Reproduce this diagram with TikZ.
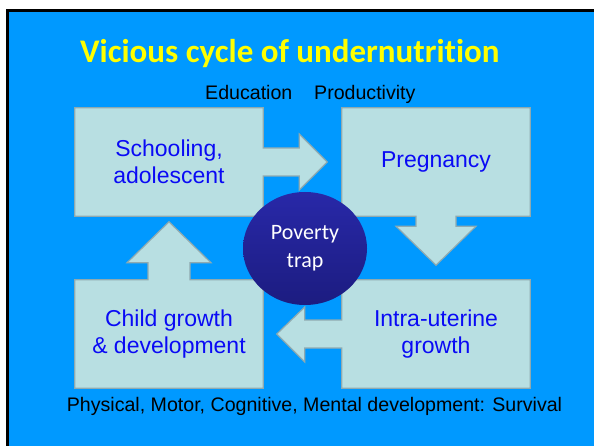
\documentclass[tikz,border=0pt]{standalone}
\usepackage{fontspec}
\setmainfont{Liberation Sans}
\newfontfamily\calibri[Ligatures=NoCommon]{Carlito}
\usetikzlibrary{calc,shapes.geometric}
\pgfdeclarelayer{back}
\pgfsetlayers{back,main}

\definecolor{slidebg}{HTML}{0099FF}
\definecolor{boxfill}{HTML}{B8DFE2}
\definecolor{boxline}{HTML}{8FAAB0}
\definecolor{labelblue}{HTML}{0A0AF5}
\definecolor{titleyellow}{HTML}{FFFF00}
\definecolor{traplight}{HTML}{2828A8}
\definecolor{trapdark}{HTML}{1C1C80}

\begin{document}
\begin{tikzpicture}[x=1pt,y=-1pt,
    stage/.style={minimum width=188pt,minimum height=108pt,inner sep=0pt,
      align=center,text=labelblue,font=\fontsize{23}{27.5}\selectfont},
    callout/.style={fill=boxfill,draw=boxline,line width=1.2pt,line join=miter},
    note/.style={inner sep=0pt,font=\fontsize{19.6}{23}\selectfont}]

  \useasboundingbox (0,0) rectangle (594,446);

  \node[anchor=base west,inner sep=0pt,text=titleyellow,
    font=\calibri\bfseries\fontsize{33}{40}\selectfont] (title) at (80,63)
    {Vicious cycle of undernutrition};

  % the four stages
  \node[stage] (school) at (169,162) {Schooling,\\adolescent};
  \node[stage] (preg) at (436,162) {Pregnancy};
  \node[stage] (uterine) at (436,334) {Intra-uterine\\growth};
  \node[stage] (child) at (169,334) {Child growth\\\& development};

  \begin{pgfonlayer}{back}
    % slide frame
    \fill[white] (0,0) rectangle (594,446);
    \fill[black] (6,9.5) rectangle (594,446);
    \fill[slidebg] (8.5,12) rectangle (594,446);

    % box + arrow to the right
    \draw[callout] (school.north west) -- (school.north east)
      -- ($(school.east)+(0,-14)$) -- ++(36,0) -- ++(0,-14)
      -- ($(school.east)+(64,0)$)
      -- ($(school.east)+(36,28)$) -- ++(0,-14) -- ++(-36,0)
      -- (school.south east) -- (school.south west) -- cycle;
    % box + arrow down
    \draw[callout] (preg.north west) -- (preg.north east) -- (preg.south east)
      -- ($(preg.south)+(20,0)$) -- ++(0,10) -- ++(20,0)
      -- ($(preg.south)+(0,49)$)
      -- ($(preg.south)+(-40,10)$) -- ++(20,0) -- ++(0,-10)
      -- (preg.south west) -- cycle;
    % box + arrow to the left
    \draw[callout] (uterine.north west) -- (uterine.north east)
      -- (uterine.south east) -- (uterine.south west)
      -- ($(uterine.west)+(0,14)$) -- ++(-37,0) -- ++(0,14)
      -- ($(uterine.west)+(-65,0)$)
      -- ($(uterine.west)+(-37,-27)$) -- ++(0,13) -- ++(37,0) -- cycle;
    % box + arrow up
    \draw[callout] (child.south west) -- (child.south east)
      -- (child.north east) -- ($(child.north)+(21,0)$) -- ++(0,-17) -- ++(21,0)
      -- ($(child.north)+(0,-58)$)
      -- ($(child.north)+(-42,-17)$) -- ++(21,0) -- ++(0,17)
      -- (child.north west) -- cycle;
  \end{pgfonlayer}

  \node[ellipse,minimum width=124pt,minimum height=113pt,inner sep=0pt,
    top color=traplight,bottom color=trapdark,text=white,align=center,
    font=\calibri\fontsize{22}{28}\selectfont] (trap) at (305,248.5) {Poverty\\trap};

  \node[note,anchor=base west] (edu) at (205,100) {Education};
  \node[note,anchor=base west] (prod) at (314,100) {Productivity};
  \node[note,anchor=base] (outcome) at (314.5,411)
    {Physical, Motor, Cognitive, Mental development: Survival};
\end{tikzpicture}
\end{document}
